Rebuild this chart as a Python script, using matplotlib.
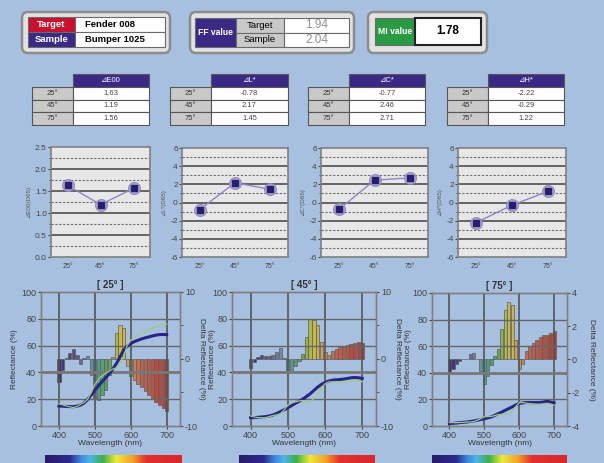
"""Multi-angle colour difference report."""

import matplotlib

matplotlib.use("Agg")
import matplotlib.pyplot as plt
from matplotlib.colors import LinearSegmentedColormap
from matplotlib.patches import FancyBboxPatch, Rectangle
import numpy as np

plt.rcParams["font.family"] = ["Liberation Sans", "DejaVu Sans", "Noto Sans CJK JP"]
plt.rcParams["axes.unicode_minus"] = False

W, H = 604, 463

# header values
target_name = "Fender 008"
sample_name = "Bumper 1025"
ff_target = 1.94
ff_sample = 2.04
mi_value = 1.78

# colour differences per angle
angles = ["25°", "45°", "75°"]
delta_e00 = [1.63, 1.19, 1.56]
delta_l = [-0.78, 2.17, 1.45]
delta_c = [-0.77, 2.46, 2.71]
delta_h = [-2.22, -0.29, 1.22]

# spectral data, 400-700 nm in 10 nm steps
wavelengths = np.arange(400, 701, 10)

sample_25 = [14.9, 14.8, 14.6, 14.5, 14.4, 14.8, 15.6, 17.2, 19.8, 23.2, 26.8,
             30.0, 33.0, 36.0, 39.0, 42.6, 46.6, 51.5, 56.6, 59.5, 61.5,
             63.0, 64.0, 65.0, 65.8, 66.5, 67.2, 67.8, 68.2, 68.3, 68.2]
target_25 = [16.5, 15.8, 15.0, 14.3, 13.8, 14.5, 16.2, 17.5, 20.0, 25.0, 31.0,
             35.0, 37.5, 39.5, 41.0, 42.5, 43.5, 47.0, 52.0, 60.0, 64.0,
             66.2, 67.8, 69.3, 70.6, 71.8, 73.0, 74.0, 75.0, 75.6, 76.0]
delta_25 = [-3.5, -1.6, 0.1, 0.9, 1.5, 0.6, -0.8, 0.1, 0.4, -2.4, -5.9,
            -6.1, -5.4, -4.6, -2.4, 0.3, 3.9, 5.1, 4.6, -1.1, -2.6,
            -3.1, -3.7, -4.2, -4.8, -5.3, -5.9, -6.4, -6.9, -7.3, -7.8]

sample_45 = [6.2, 6.3, 6.5, 6.7, 7.0, 7.5, 8.2, 9.3, 10.7, 12.1, 13.6,
             15.2, 16.9, 18.4, 20.0, 22.0, 24.0, 26.5, 29.0, 31.0, 32.5,
             33.5, 34.2, 34.5, 34.7, 35.0, 35.5, 36.0, 36.2, 36.0, 35.5]
target_45 = [7.5, 6.7, 6.2, 6.1, 6.2, 7.0, 7.8, 8.3, 9.2, 12.0, 15.4,
             17.1, 17.9, 18.7, 19.0, 18.7, 18.0, 20.7, 23.9, 28.4, 31.5,
             32.9, 33.0, 33.0, 32.9, 33.0, 33.4, 33.8, 33.8, 33.5, 33.1]
delta_45 = [-1.3, -0.4, 0.3, 0.6, 0.5, 0.4, 0.6, 1.1, 1.6, 0.1, -1.8,
            -1.9, -1.0, -0.3, 0.8, 3.3, 6.0, 5.8, 5.1, 2.6, 1.0,
            0.6, 1.2, 1.5, 1.8, 2.0, 2.1, 2.2, 2.4, 2.5, 2.4]

sample_75 = [1.8, 2.0, 2.2, 2.5, 2.8, 3.0, 3.4, 3.8, 4.3, 4.9, 5.5,
             6.1, 6.8, 8.0, 9.3, 10.5, 11.8, 13.1, 14.4, 15.8, 16.9,
             17.4, 17.6, 17.6, 17.6, 17.6, 17.7, 18.0, 18.6, 18.0, 17.4]
target_75 = [2.6, 2.6, 2.5, 2.6, 2.8, 3.0, 3.0, 3.4, 4.3, 5.6, 6.9,
             7.1, 7.2, 7.8, 8.6, 8.7, 8.8, 9.7, 11.2, 14.6, 17.5,
             17.7, 17.1, 16.8, 16.6, 16.4, 16.4, 16.6, 17.1, 16.4, 15.7]
delta_75 = [-0.78, -0.55, -0.3, -0.1, 0.0, 0.0, 0.35, 0.4, 0.0, -0.7, -1.45,
            -1.0, -0.35, 0.2, 0.65, 1.85, 3.0, 3.45, 3.25, 1.2, -0.6,
            -0.3, 0.5, 0.8, 1.0, 1.2, 1.35, 1.45, 1.5, 1.6, 1.7]

PURPLE = "#3a2a86"
RED = "#c8112f"
GREEN = "#2a9a45"
CELL_GRAY = "#c9c9c9"

bar_cmap = LinearSegmentedColormap.from_list(
    "bars",
    [(0.0, "#3c2f78"), (0.15, "#5a5280"), (0.25, "#7a86a6"), (0.33, "#4e9c98"),
     (0.45, "#5ca356"), (0.52, "#a6b44a"), (0.58, "#cdbb4a"), (0.65, "#cf9a5a"),
     (0.75, "#c4654c"), (1.0, "#b43c36")],
)
strip_cmap = LinearSegmentedColormap.from_list(
    "strip",
    [(0.0, "#2a1a6a"), (0.18, "#2c2a8e"), (0.26, "#3e86d8"), (0.33, "#4fb5e6"),
     (0.42, "#3cae4a"), (0.52, "#ecea38"), (0.64, "#f3a02a"), (0.74, "#e2302c"),
     (1.0, "#d8282c")],
)

fig = plt.figure(figsize=(W / 100, H / 100), dpi=100)
fig.patch.set_facecolor("#a8c0e0")

bg = fig.add_axes([0, 0, 1, 1], zorder=-1)
bg.set_xlim(0, W)
bg.set_ylim(H, 0)
bg.axis("off")


def px_axes(box):
    x0, y0, x1, y1 = box
    return fig.add_axes([x0 / W, 1 - y1 / H, (x1 - x0) / W, (y1 - y0) / H])


def frame(x0, y0, x1, y1):
    bg.add_patch(FancyBboxPatch((x0, y0), x1 - x0, y1 - y0,
                                boxstyle="round,pad=0,rounding_size=6",
                                fc="#e2e2e2", ec="#8c8c8c", lw=1.8))


def cell(x0, y0, x1, y1, fc, text="", color="black", size=7, weight="normal",
         ha="center", ec="#6a6a6a", lw=0.8):
    bg.add_patch(Rectangle((x0, y0), x1 - x0, y1 - y0, fc=fc, ec=ec, lw=lw))
    if text:
        tx = (x0 + x1) / 2 if ha == "center" else x0 + 10
        bg.text(tx, (y0 + y1) / 2, text, ha=ha, va="center", color=color,
                fontsize=size, fontweight=weight)


# header boxes
frame(22, 12, 170, 53)
cell(28, 17, 75, 32, RED, "Target", "white", size=6.8, weight="bold")
cell(28, 32, 75, 47, PURPLE, "Sample", "white", size=6.8, weight="bold")
cell(75, 17, 165, 32, "white", target_name, ha="left", size=6.8, weight="bold")
cell(75, 32, 165, 47, "white", sample_name, ha="left", size=6.8, weight="bold")

frame(190, 12, 354, 53)
cell(195, 18, 236, 47, PURPLE, "FF value", "white", size=6.2, weight="bold")
cell(236, 18, 284, 32.5, CELL_GRAY, "Target", size=6.8)
cell(236, 32.5, 284, 47, CELL_GRAY, "Sample", size=6.8)
cell(284, 18, 349, 32.5, "white", f"{ff_target:.2f}", "#909090", size=8.5)
cell(284, 32.5, 349, 47, "white", f"{ff_sample:.2f}", "#909090", size=8.5)

frame(368, 12, 487, 53)
cell(375, 18, 415, 45, GREEN, "MI value", "white", size=6.2, weight="bold")
cell(415, 18, 481, 45, "white", f"{mi_value:.2f}", size=8.5, weight="bold",
     ec="#222222", lw=1.5)

# tables
tables = [("⊿E00", delta_e00, 32, 73, 149),
          ("⊿L*", delta_l, 170, 211, 288),
          ("⊿C*", delta_c, 308, 349, 425),
          ("⊿H*", delta_h, 447, 488, 564)]
row_edges = [87, 99.5, 112, 124.5]
for title, vals, xl, xm, xr in tables:
    cell(xm, 74, xr, 87, PURPLE, title, "white", size=5.5, ec="#555555")
    for k, v in enumerate(vals):
        cell(xl, row_edges[k], xm, row_edges[k + 1], CELL_GRAY, angles[k],
             "#333333", size=5.5, ec="#555555")
        cell(xm, row_edges[k], xr, row_edges[k + 1], "white", f"{v:.2f}",
             "#444444", size=5.5, ec="#555555")

# small angle charts
small = [(delta_e00, "⊿E00(D65)", (51, 147, 150, 257)),
         (delta_l, "⊿L*(D65)", (182, 148, 288, 257)),
         (delta_c, "⊿C*(D65)", (321, 148, 428, 257)),
         (delta_h, "⊿H*(D65)", (458, 148, 566, 257))]
x = np.arange(len(angles))
for i, (vals, label, box) in enumerate(small):
    ax = px_axes(box)
    ax.set_facecolor("#e7e7e7")
    if i == 0:
        ax.set_ylim(0, 2.5)
        solid = [0.5, 1.0, 1.5, 2.0]
        dashed = [0.25, 0.75, 1.25, 1.75, 2.25]
        ax.set_yticks([0, 0.5, 1.0, 1.5, 2.0, 2.5], ["0.0", "0.5", "1.0", "1.5", "2.0", "2.5"])
    else:
        ax.set_ylim(-6, 6)
        solid = [-4, -2, 0, 2, 4]
        dashed = [-5, -3, -1, 1, 3, 5]
        ax.set_yticks(range(-6, 7, 2))
    ax.set_yticks(dashed, minor=True)
    for y in solid:
        ax.axhline(y, color="#5a5a5a", lw=1.3, zorder=1)
    for y in dashed:
        ax.axhline(y, color="#6a6a6a", lw=0.8, ls=(0, (2, 1.5)), zorder=1)
    ax.plot(x, vals, color="#8c87c6", lw=1, zorder=2)
    ax.plot(x, vals, "o", ms=8.5, mfc="#aeaacb", mec="#8d89b8", mew=0.8, zorder=3)
    ax.plot(x, vals, "s", ms=4.2, color="#261e70", zorder=4)
    ax.set_xlim(-0.5, 2.5)
    ax.set_xticks(x, angles)
    ax.tick_params(axis="y", labelsize=6, colors="#444444", length=2, pad=1)
    ax.tick_params(axis="y", which="minor", length=1.5, colors="#444444")
    ax.tick_params(axis="x", labelsize=5, colors="#444444", length=0, pad=4)
    for s in ax.spines.values():
        s.set_color("#808080")
        s.set_linewidth(1.2)
    ax.set_ylabel(label, fontsize=4.5, color="#555555", labelpad=3)

# spectral charts: title, curves, bars, right limit, axes box, strip box,
# x of left / right axis label in pixels
spectra = [("[ 25° ]", sample_25, target_25, delta_25, 10,
            (41, 292, 180, 426), (45, 455, 182, 464), 15, 201),
           ("[ 45° ]", sample_45, target_45, delta_45, 10,
            (232, 292, 376, 426), (239, 455, 374, 464), 212, 397),
           ("[ 75° ]", sample_75, target_75, delta_75, 4,
            (432, 293, 567, 426), (432, 455, 567, 464), 409, 591)]
for title, sample, target, delta, lim, box, strip_box, lx, rx in spectra:
    ax = px_axes(box)
    axr = ax.twinx()
    ax.set_zorder(axr.get_zorder() + 1)
    ax.patch.set_visible(False)
    axr.set_facecolor("#e6e6e6")

    axr.bar(wavelengths, delta, width=9, color=bar_cmap((wavelengths - 400) / 300),
            edgecolor="#5c5c5c", linewidth=0.5)
    axr.set_ylim(-lim, lim)
    if lim == 10:
        axr.set_yticks([-10, 0, 10])
        axr.set_yticks([-5, 5], minor=True)
    else:
        axr.set_yticks([-4, -2, 0, 2, 4])

    for wl in [400, 500, 600, 700]:
        ax.axvline(wl, color="#555555", lw=1.2, zorder=1)
    for y in [20, 60, 80]:
        ax.axhline(y, color="#666666", lw=1.0, zorder=1)
    ax.axhline(40, color="#777777", lw=2.0, zorder=1)

    ax.plot(wavelengths, target, color="#9ccc7a", lw=0.9, zorder=3)
    ax.plot(wavelengths, sample, color="#2a2488", lw=2.2, zorder=2)
    ax.set_xlim(350, 737)
    ax.set_ylim(0, 100)
    ax.set_xticks([400, 500, 600, 700])
    ax.set_yticks([0, 20, 40, 60, 80, 100])

    ax.tick_params(labelsize=6.5, colors="#444444", length=2.5, pad=1)
    axr.tick_params(labelsize=6.5, colors="#444444", length=2.5, pad=1)
    axr.tick_params(which="minor", length=2.5, colors="#444444")
    for a in (ax, axr):
        for s in a.spines.values():
            s.set_color("#808080")
            s.set_linewidth(1.0)
    ax.set_title(title, fontsize=7, pad=3, color="#333333", fontweight="bold")
    ax.set_xlabel("Wavelength (nm)", fontsize=6, color="#333333", labelpad=0)

    width = box[2] - box[0]
    ax.set_ylabel("Reflectance (%)", fontsize=6, color="#333333",
                  ha="center", va="center")
    ax.yaxis.set_label_coords((lx - box[0]) / width, 0.5)
    axr.set_ylabel("Delta Reflectance (%)", fontsize=6, color="#333333",
                   rotation=270, ha="center", va="center")
    axr.yaxis.set_label_coords((rx - box[0]) / width, 0.5)

    sax = px_axes(strip_box)
    sax.imshow(np.linspace(0, 1, 256)[None, :], cmap=strip_cmap, aspect="auto")
    sax.axis("off")

fig.savefig("out.png", dpi=100, facecolor=fig.get_facecolor())
plt.close(fig)
